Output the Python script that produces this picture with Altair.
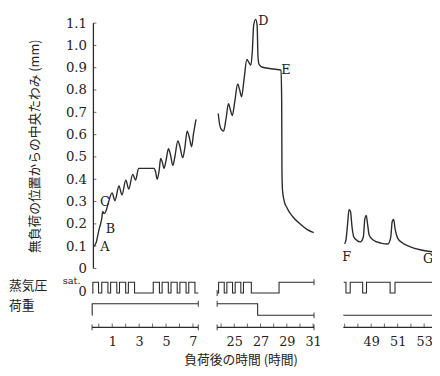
import altair as alt
import pandas as pd

# ---------------- data ----------------
# central deflection (mm) vs hours after loading, three time windows
seg1_t = [-0.33, -0.18, -0.07, 0.04, 0.11, 0.22, 0.29, 0.40, 0.55, 0.69, 0.99, 1.20, 1.50, 1.72, 2.01,
          2.23, 2.52, 2.74, 2.96, 3.05, 4.12, 4.23, 4.34, 4.49, 4.60, 4.71, 4.85,
          5.00, 5.18, 5.33, 5.51, 5.66, 5.88, 6.02, 6.24, 6.39, 6.57, 6.72, 6.90, 7.04, 7.23]
seg1_y = [0.101, 0.119, 0.150, 0.180, 0.194, 0.224, 0.255, 0.246, 0.260, 0.290, 0.339, 0.304, 0.370, 0.330, 0.396,
          0.356, 0.422, 0.396, 0.449, 0.449, 0.449, 0.431, 0.400, 0.440, 0.493, 0.480, 0.449,
          0.484, 0.537, 0.510, 0.462, 0.502, 0.572, 0.550, 0.497, 0.537, 0.616, 0.590, 0.546, 0.603, 0.669]
seg2_t = [23.78, 23.85, 24.00, 24.19, 24.37, 24.56, 24.70, 24.85, 25.04, 25.26, 25.41, 25.56, 25.74, 25.96, 26.11,
          26.26, 26.37, 26.48, 26.63, 26.74, 26.81, 26.89, 27.15, 28.11, 28.56, 28.61, 28.63, 28.67, 28.78, 29.00,
          29.44, 30.04, 30.56, 31.04]
seg2_y = [0.695, 0.660, 0.625, 0.616, 0.669, 0.739, 0.713, 0.686, 0.748, 0.827, 0.801, 0.770, 0.845, 0.937, 0.924,
          0.911, 0.968, 1.091, 1.117, 1.091, 0.946, 0.915, 0.902, 0.893, 0.889, 0.748, 0.440, 0.352, 0.308, 0.273,
          0.233, 0.198, 0.174, 0.161]
seg3_t = [47.00, 47.11, 47.22, 47.33, 47.44, 47.56, 47.67, 47.89, 48.19, 48.41, 48.52, 48.63, 48.74, 48.85, 49.15,
          49.74, 50.26, 50.48, 50.59, 50.70, 50.81, 51.00, 51.37, 51.96, 52.70, 53.59]
seg3_y = [0.110, 0.132, 0.198, 0.264, 0.255, 0.185, 0.145, 0.128, 0.119, 0.141, 0.220, 0.238, 0.194, 0.150, 0.128,
          0.114, 0.110, 0.141, 0.211, 0.220, 0.176, 0.136, 0.114, 0.097, 0.084, 0.075]

# vapour pressure switching (1 = sat., 0 = 0), step after each time
vap1_t = [-0.5, -0.44, -0.02, 0.22, 0.68, 0.88, 1.34, 1.54, 2.0, 2.2, 2.66, 4.05, 4.51, 4.71, 5.17, 5.37, 5.83,
          6.03, 6.49, 6.69, 7.15, 7.4]
vap1_v = [0, 1, 0, 1, 0, 1, 0, 1, 0, 1, 0, 1, 0, 1, 0, 1, 0, 1, 0, 1, 0, 0]
vap2_t = [23.7, 23.81, 24.24, 24.44, 24.87, 25.07, 25.5, 25.7, 26.3, 28.41, 31.07]
vap2_v = [0, 1, 0, 1, 0, 1, 0, 1, 0, 1, 1]
vap3_t = [46.93, 47.1, 47.42, 48.36, 48.65, 50.43, 50.8, 53.7]
vap3_v = [1, 0, 1, 0, 1, 0, 1, 1]

# load on / off
load1_t = [-0.5, -0.49, 7.4]
load1_v = [0, 1, 1]
load2_t = [23.7, 26.78, 31.07]
load2_v = [1, 0, 0]
load3_t = [46.9, 53.7]
load3_v = [0, 0]

# time windows shown and their axis ticks
win_start = [-0.5, 23.7, 46.9]
win_end = [7.4, 31.07, 53.7]
tick_hours = list(range(0, 8)) + list(range(24, 32)) + list(range(47, 54))
label_hours = [1, 3, 5, 7, 25, 27, 29, 31, 49, 51, 53]
y_values = [0, 0.1, 0.2, 0.3, 0.4, 0.5, 0.6, 0.7, 0.8, 0.9, 1.0, 1.1]

letters = ["A", "B", "C", "D", "E", "F", "G"]
letter_t = [0.45, 0.86, 0.45, 27.22, 28.93, 47.15, 53.3]
letter_y = [0.097, 0.176, 0.296, 1.109, 0.889, 0.053, 0.044]

# ---------------- layout constants ----------------
INK = "#2b2b2b"
VAP_Y = {1: -0.0616, 0: -0.110}
LOAD_Y = {1: -0.158, 0: -0.210}
AXIS_Y = -0.264
YAXIS_T = -0.40

# ---------------- tables ----------------
rows = []
for s, (ts, ys) in enumerate([(seg1_t, seg1_y), (seg2_t, seg2_y), (seg3_t, seg3_y)]):
    for i, (t, y) in enumerate(zip(ts, ys)):
        rows.append({"seg": s, "i": i, "t": t, "y": y})
curve = pd.DataFrame(rows)

rows = []
for s, (ts, vs) in enumerate([(vap1_t, vap1_v), (vap2_t, vap2_v), (vap3_t, vap3_v)]):
    for i, (t, v) in enumerate(zip(ts, vs)):
        rows.append({"seg": s, "i": i, "t": t, "y": VAP_Y[v]})
vap = pd.DataFrame(rows)

rows = []
for s, (ts, vs) in enumerate([(load1_t, load1_v), (load2_t, load2_v), (load3_t, load3_v)]):
    for i, (t, v) in enumerate(zip(ts, vs)):
        rows.append({"seg": s, "i": i, "t": t, "y": LOAD_Y[v]})
load = pd.DataFrame(rows)

axis_lines = pd.DataFrame({"t": win_start, "t2": win_end, "y": [AXIS_Y] * 3})
xticks = pd.DataFrame({"t": tick_hours, "y": [AXIS_Y] * len(tick_hours)})
caps = pd.DataFrame({
    "t": [win_end[0], win_end[0], win_start[0], vap2_t[0], vap2_t[-1], load2_t[0], load2_t[-1], win_start[1], win_end[1]],
    "y": [LOAD_Y[1], AXIS_Y, AXIS_Y, VAP_Y[0], VAP_Y[1], LOAD_Y[1], LOAD_Y[0], AXIS_Y, AXIS_Y],
})
yline = pd.DataFrame({"t": [YAXIS_T], "y": [0.0], "y2": [1.1]})
yticks = pd.DataFrame({"t": [YAXIS_T] * len(y_values), "y": y_values})
lett = pd.DataFrame({"t": letter_t, "y": letter_y, "txt": letters})
strip_lbl = pd.DataFrame({"y": [-0.079, -0.167], "txt": ["蒸気圧", "荷重"]})
sat_lbl = pd.DataFrame({"y": [-0.057], "txt": ["sat."]})
zero_lbl = pd.DataFrame({"y": [-0.106], "txt": ["0"]})

# ---------------- scales / axes ----------------
xs = alt.Scale(domain=[-0.5, 7.4, 23.7, 31.1, 46.9, 53.7],
               range=[0.65, 108.9, 128.1, 227.2, 256.65, 348.45], nice=False, zero=False)
ys = alt.Scale(domain=[-0.2772, 1.144], nice=False, zero=False)

xaxis = alt.Axis(values=label_hours, ticks=False, domain=False, grid=False, labelFlush=False,
                 labelOverlap=False, labelFont="DejaVu Serif", labelFontSize=13, labelColor="#222",
                 labelPadding=5, title="負荷後の時間 (時間)", titleFont="Noto Sans CJK JP",
                 titleFontSize=13, titleFontWeight="normal", titleColor="#222",
                 titleX=152, titleY=30, titleAlign="center", titleBaseline="middle", titleAngle=0)
yaxis = alt.Axis(values=y_values, labelExpr="datum.value == 0 ? '0' : format(datum.value, '.1f')",
                 ticks=False, domain=False, grid=False, labelFont="DejaVu Serif", labelFontSize=13.5,
                 labelColor="#222", labelPadding=5, title="無負荷の位置からの中央たわみ (mm)",
                 titleFont="Noto Sans CJK JP", titleFontSize=13, titleFontWeight="normal",
                 titleColor="#222", titleX=-58, titleY=135, titleAngle=270, titleAlign="center",
                 titleBaseline="middle")

X = alt.X("t:Q", scale=xs, axis=xaxis)
Y = alt.Y("y:Q", scale=ys, axis=yaxis)

curve_l = alt.Chart(curve).mark_line(interpolate="monotone", color=INK, strokeWidth=1.4).encode(
    x=X, y=Y, detail="seg:N", order="i:Q")
vap_l = alt.Chart(vap).mark_line(interpolate="step-after", color=INK, strokeWidth=1.1).encode(
    x=X, y=Y, detail="seg:N", order="i:Q")
load_l = alt.Chart(load).mark_line(interpolate="step-after", color=INK, strokeWidth=1.1).encode(
    x=X, y=Y, detail="seg:N", order="i:Q")
axis_l = alt.Chart(axis_lines).mark_rule(color=INK, strokeWidth=1.1).encode(x=X, x2="t2:Q", y=Y)
xtick_l = alt.Chart(xticks).mark_tick(orient="vertical", size=4, thickness=1, yOffset=-2, color=INK).encode(x=X, y=Y)
cap_l = alt.Chart(caps).mark_tick(orient="vertical", size=6, thickness=1.3, color=INK).encode(x=X, y=Y)
yline_l = alt.Chart(yline).mark_rule(color=INK, strokeWidth=1.3).encode(x=X, y=Y, y2="y2:Q")
ytick_l = alt.Chart(yticks).mark_tick(orient="horizontal", size=3, thickness=1, xOffset=1.5, color=INK).encode(x=X, y=Y)
lett_l = alt.Chart(lett).mark_text(font="DejaVu Serif", fontSize=13, color="#222").encode(x=X, y=Y, text="txt:N")
strip_l = alt.Chart(strip_lbl).mark_text(font="Noto Sans CJK JP", fontSize=13, align="left", color="#222").encode(
    x=alt.value(-84), y=Y, text="txt:N")
sat_l = alt.Chart(sat_lbl).mark_text(font="DejaVu Serif", fontSize=10, align="right", color="#222").encode(
    x=alt.value(-11), y=Y, text="txt:N")
zero_l = alt.Chart(zero_lbl).mark_text(font="DejaVu Serif", fontSize=13, align="right", color="#222").encode(
    x=alt.value(-5), y=Y, text="txt:N")

chart = alt.layer(curve_l, vap_l, load_l, axis_l, xtick_l, cap_l, yline_l, ytick_l, lett_l,
                  strip_l, sat_l, zero_l).properties(
    width=347, height=323,
    padding={"left": 85, "top": 2, "right": 0, "bottom": 35},
    autosize=alt.AutoSizeParams(type="none"),
    background="white",
).configure_view(stroke=None)

chart.save("out.html", embed_options={"renderer": "svg", "actions": False})
